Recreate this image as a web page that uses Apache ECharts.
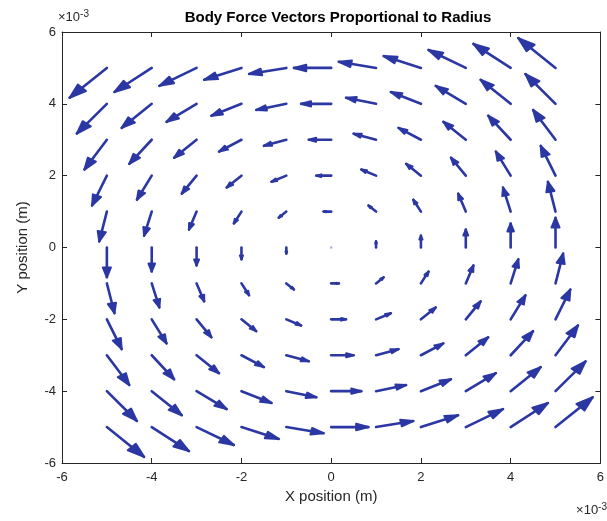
<!DOCTYPE html>
<html>
<head>
<meta charset="utf-8">
<script src="https://cdn.jsdelivr.net/npm/echarts@6/dist/echarts.min.js"></script>
<style>
html,body{margin:0;padding:0;background:#fff;}
#chart{width:607px;height:521px;}
</style>
</head>
<body>
<div id="chart"></div>
<script>
// Grid positions (×10^-3 m)
var xPositions = [-5, -4, -3, -2, -1, 0, 1, 2, 3, 4, 5];
var yPositions = [5, 4, 3, 2, 1, 0, -1, -2, -3, -4, -5];
// Vector components (rows follow yPositions, columns follow xPositions)
var uComponents = [
  [-0.83,-0.83,-0.83,-0.83,-0.83,-0.83,-0.83,-0.83,-0.83,-0.83,-0.83],
  [-0.67,-0.67,-0.67,-0.67,-0.67,-0.67,-0.67,-0.67,-0.67,-0.67,-0.67],
  [-0.50,-0.50,-0.50,-0.50,-0.50,-0.50,-0.50,-0.50,-0.50,-0.50,-0.50],
  [-0.33,-0.33,-0.33,-0.33,-0.33,-0.33,-0.33,-0.33,-0.33,-0.33,-0.33],
  [-0.17,-0.17,-0.17,-0.17,-0.17,-0.17,-0.17,-0.17,-0.17,-0.17,-0.17],
  [0,0,0,0,0,0,0,0,0,0,0],
  [0.17,0.17,0.17,0.17,0.17,0.17,0.17,0.17,0.17,0.17,0.17],
  [0.33,0.33,0.33,0.33,0.33,0.33,0.33,0.33,0.33,0.33,0.33],
  [0.50,0.50,0.50,0.50,0.50,0.50,0.50,0.50,0.50,0.50,0.50],
  [0.67,0.67,0.67,0.67,0.67,0.67,0.67,0.67,0.67,0.67,0.67],
  [0.83,0.83,0.83,0.83,0.83,0.83,0.83,0.83,0.83,0.83,0.83]
];
var vComponents = [
  [-0.83,-0.67,-0.50,-0.33,-0.17,0,0.17,0.33,0.50,0.67,0.83],
  [-0.83,-0.67,-0.50,-0.33,-0.17,0,0.17,0.33,0.50,0.67,0.83],
  [-0.83,-0.67,-0.50,-0.33,-0.17,0,0.17,0.33,0.50,0.67,0.83],
  [-0.83,-0.67,-0.50,-0.33,-0.17,0,0.17,0.33,0.50,0.67,0.83],
  [-0.83,-0.67,-0.50,-0.33,-0.17,0,0.17,0.33,0.50,0.67,0.83],
  [-0.83,-0.67,-0.50,-0.33,-0.17,0,0.17,0.33,0.50,0.67,0.83],
  [-0.83,-0.67,-0.50,-0.33,-0.17,0,0.17,0.33,0.50,0.67,0.83],
  [-0.83,-0.67,-0.50,-0.33,-0.17,0,0.17,0.33,0.50,0.67,0.83],
  [-0.83,-0.67,-0.50,-0.33,-0.17,0,0.17,0.33,0.50,0.67,0.83],
  [-0.83,-0.67,-0.50,-0.33,-0.17,0,0.17,0.33,0.50,0.67,0.83],
  [-0.83,-0.67,-0.50,-0.33,-0.17,0,0.17,0.33,0.50,0.67,0.83]
];
var tickValues = [-6, -4, -2, 0, 2, 4, 6];

var quiverData = [];
for (var i = 0; i < yPositions.length; i++) {
  for (var j = 0; j < xPositions.length; j++) {
    quiverData.push([xPositions[j], yPositions[i], uComponents[i][j], vComponents[i][j]]);
  }
}

var FONT = '"Liberation Sans", Arial, Helvetica, sans-serif';
var AX = '#262626';
var ARROW = '#2b37a3';

function renderArrow(params, api) {
  var x = api.value(0), y = api.value(1), u = api.value(2), v = api.value(3);
  var p0 = api.coord([x, y]);
  if (u === 0 && v === 0) {
    return {type: 'circle', shape: {cx: p0[0], cy: p0[1], r: 1.3}, style: {fill: '#9fb6dc'}};
  }
  var alpha = 0.33, beta = 0.33;
  var p1 = api.coord([x + u, y + v]);
  var h1 = api.coord([x + u - alpha * (u + beta * v), y + v - alpha * (v - beta * u)]);
  var h2 = api.coord([x + u - alpha * (u - beta * v), y + v - alpha * (v + beta * u)]);
  return {
    type: 'group',
    children: [
      {type: 'line', shape: {x1: p0[0], y1: p0[1], x2: p1[0], y2: p1[1]},
        style: {stroke: ARROW, lineWidth: 2.6, lineCap: 'round'}},
      {type: 'polygon', shape: {points: [h1, p1, h2]},
        style: {fill: ARROW, stroke: ARROW, lineWidth: 2, lineJoin: 'round'}}
    ]
  };
}

function axisCommon(showLabels) {
  return {
    type: 'value', min: -6, max: 6, interval: 2,
    axisLine: {show: true, onZero: false, lineStyle: {color: AX, width: 1}},
    axisTick: {show: true, inside: true, length: 5, lineStyle: {color: AX}},
    axisLabel: {show: showLabels, color: AX, fontSize: 13, fontFamily: FONT},
    splitLine: {show: false}
  };
}

var xb = axisCommon(true);
xb.position = 'bottom';
xb.axisLabel.margin = 8;
xb.name = 'X position (m)';
xb.nameLocation = 'middle';
xb.nameGap = 25;
xb.nameTextStyle = {color: AX, fontSize: 15, fontFamily: FONT};
var xt = axisCommon(false);
xt.position = 'top';

var yl = axisCommon(true);
yl.position = 'left';
yl.axisLabel.margin = 6;
yl.name = 'Y position (m)';
yl.nameLocation = 'middle';
yl.nameGap = 32;
yl.nameTextStyle = {color: AX, fontSize: 15, fontFamily: FONT};
var yr = axisCommon(false);
yr.position = 'right';

var chart = echarts.init(document.getElementById('chart'), null, {renderer: 'canvas'});
chart.setOption({
  animation: false,
  backgroundColor: '#ffffff',
  title: {
    text: 'Body Force Vectors Proportional to Radius',
    left: 333, top: 5, textAlign: 'center',
    textStyle: {fontSize: 15, fontWeight: 'bold', color: '#000', fontFamily: FONT}
  },
  grid: {left: 62, right: 3, top: 32, bottom: 58, containLabel: false},
  xAxis: [xb, xt],
  yAxis: [yl, yr],
  graphic: [
    {type: 'text', left: 58, top: 9,
      style: {text: '×10{s|-3}', fill: AX, font: '13px ' + FONT,
        rich: {s: {fontSize: 10, verticalAlign: 'top', padding: [0, 0, 7, 0], fill: AX, fontFamily: FONT}}}},
    {type: 'text', right: 0, top: 502,
      style: {text: '×10{s|-3}', fill: AX, font: '13px ' + FONT,
        rich: {s: {fontSize: 10, verticalAlign: 'top', padding: [0, 0, 7, 0], fill: AX, fontFamily: FONT}}}}
  ],
  series: [{
    type: 'custom',
    xAxisIndex: 0, yAxisIndex: 0,
    renderItem: renderArrow,
    encode: {x: 0, y: 1},
    data: quiverData,
    clip: false
  }]
});
</script>
</body>
</html>
